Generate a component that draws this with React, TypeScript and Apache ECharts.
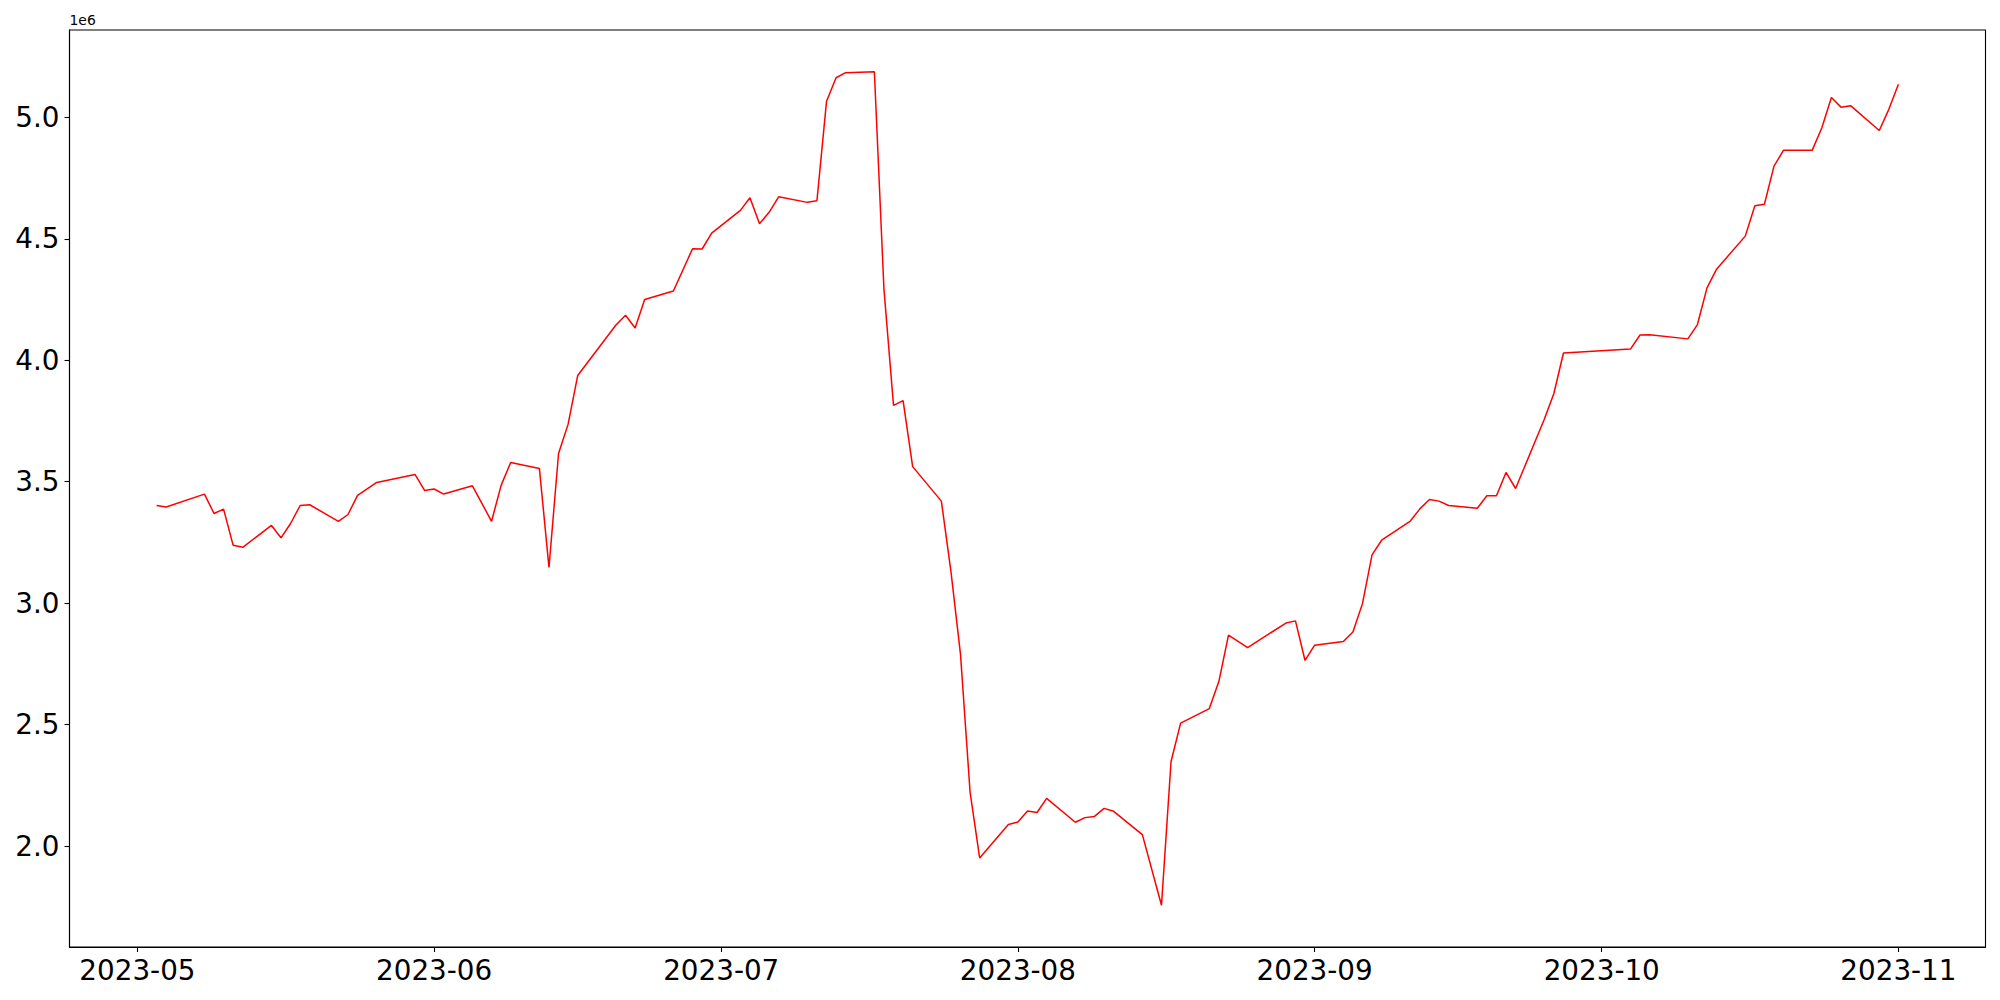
import React, { useEffect, useRef } from "react";
import * as echarts from "echarts";

const dates: string[] = [
  "2023-05-03","2023-05-04","2023-05-08","2023-05-09","2023-05-10","2023-05-11","2023-05-12",
  "2023-05-15","2023-05-16","2023-05-17","2023-05-18","2023-05-19","2023-05-22","2023-05-23",
  "2023-05-24","2023-05-26","2023-05-30","2023-05-31","2023-06-01","2023-06-02","2023-06-05",
  "2023-06-07","2023-06-08","2023-06-09","2023-06-12","2023-06-13","2023-06-14","2023-06-15",
  "2023-06-16","2023-06-20","2023-06-21","2023-06-22","2023-06-23","2023-06-26","2023-06-28",
  "2023-06-29","2023-06-30","2023-07-03","2023-07-04","2023-07-05","2023-07-06","2023-07-07",
  "2023-07-10","2023-07-11","2023-07-12","2023-07-13","2023-07-14","2023-07-17","2023-07-18",
  "2023-07-19","2023-07-20","2023-07-21","2023-07-24","2023-07-25","2023-07-26","2023-07-27",
  "2023-07-28","2023-07-31","2023-08-01","2023-08-02","2023-08-03","2023-08-04","2023-08-07",
  "2023-08-08","2023-08-09","2023-08-10","2023-08-11","2023-08-14","2023-08-16","2023-08-17",
  "2023-08-18","2023-08-21","2023-08-22","2023-08-23","2023-08-25","2023-08-29","2023-08-30",
  "2023-08-31","2023-09-01","2023-09-04","2023-09-05","2023-09-06","2023-09-07","2023-09-08",
  "2023-09-11","2023-09-12","2023-09-13","2023-09-14","2023-09-15","2023-09-18","2023-09-19",
  "2023-09-20","2023-09-21","2023-09-22","2023-09-25","2023-09-26","2023-09-27","2023-10-04",
  "2023-10-05","2023-10-06","2023-10-10","2023-10-11","2023-10-12","2023-10-13","2023-10-16",
  "2023-10-17","2023-10-18","2023-10-19","2023-10-20","2023-10-23","2023-10-24","2023-10-25",
  "2023-10-26","2023-10-27","2023-10-30","2023-10-31","2023-11-01",
];

const valuesMillions: number[] = [
  3.402, 3.396, 3.449, 3.369, 3.387, 3.238, 3.230,
  3.320, 3.269, 3.328, 3.402, 3.405, 3.337, 3.365,
  3.444, 3.497, 3.530, 3.464, 3.470, 3.449, 3.483,
  3.337, 3.485, 3.579, 3.554, 3.147, 3.616, 3.737,
  3.937, 4.145, 4.185, 4.133, 4.250, 4.285, 4.459,
  4.458, 4.523, 4.617, 4.669, 4.562, 4.609, 4.673,
  4.650, 4.657, 5.066, 5.163, 5.184, 5.188, 4.293,
  3.814, 3.834, 3.562, 3.420, 3.131, 2.789, 2.222,
  1.951, 2.089, 2.099, 2.144, 2.138, 2.196, 2.098,
  2.117, 2.122, 2.155, 2.143, 2.047, 1.756, 2.348,
  2.506, 2.566, 2.678, 2.868, 2.817, 2.918, 2.927,
  2.764, 2.827, 2.842, 2.881, 2.998, 3.199, 3.259,
  3.338, 3.388, 3.427, 3.420, 3.402, 3.391, 3.442,
  3.442, 3.538, 3.472, 3.757, 3.863, 4.030, 4.046,
  4.104, 4.105, 4.088, 4.147, 4.298, 4.375, 4.511,
  4.636, 4.642, 4.799, 4.865, 4.865, 4.957, 5.082,
  5.042, 5.048, 4.946, 5.033, 5.136,
];

const xTickDates: string[] = [
  "2023-05-01","2023-06-01","2023-07-01","2023-08-01","2023-09-01","2023-10-01","2023-11-01",
];
const yTickValues: number[] = [2.0, 2.5, 3.0, 3.5, 4.0, 4.5, 5.0];
const offsetText = "1e6";

const toTs = (s: string) => {
  const [y, m, d] = s.split("-").map(Number);
  return Date.UTC(y, m - 1, d);
};

const FONT = "DejaVu Sans";

export default function App() {
  const ref = useRef<HTMLDivElement>(null);
  useEffect(() => {
    if (!ref.current) return;
    const chart = echarts.init(ref.current, null, { renderer: "svg" });
    const xs = dates.map(toTs);
    const ys = valuesMillions.map((v) => v * 1e6);
    const xFirst = Math.min(...xs);
    const xLast = Math.max(...xs);
    const xr = xLast - xFirst;
    const yLo = Math.min(...ys);
    const yHi = Math.max(...ys);
    const yr = yHi - yLo;
    const data = xs.map((x, i) => [x, ys[i]]);
    const xTicks = xTickDates.map(toTs);
    const yTicks = yTickValues.map((v) => v * 1e6);
    const pad = (n: number) => (n < 10 ? "0" + n : "" + n);

    chart.setOption({
      animation: false,
      backgroundColor: "#ffffff",
      grid: {
        left: 69.5,
        right: 14.5,
        top: 30,
        bottom: 53,
        show: true,
        borderColor: "#000000",
        borderWidth: 1.1,
        backgroundColor: "transparent",
        containLabel: false,
      },
      xAxis: {
        type: "value",
        min: xFirst - 0.05 * xr,
        max: xLast + 0.05 * xr,
        splitLine: { show: false },
        axisLine: { show: true, lineStyle: { color: "#000", width: 1.1 } },
        axisTick: {
          show: true,
          inside: false,
          length: 5,
          lineStyle: { color: "#000", width: 1.1 },
          customValues: xTicks,
        },
        axisLabel: {
          show: true,
          customValues: xTicks,
          margin: 9,
          color: "#000",
          fontFamily: FONT,
          fontSize: 27.8,
          formatter: (v: number) => {
            const d = new Date(v);
            return d.getUTCFullYear() + "-" + pad(d.getUTCMonth() + 1);
          },
        },
      },
      yAxis: {
        type: "value",
        min: yLo - 0.05 * yr,
        max: yHi + 0.05 * yr,
        splitLine: { show: false },
        axisLine: { show: true, lineStyle: { color: "#000", width: 1.1 } },
        axisTick: {
          show: true,
          inside: false,
          length: 5,
          lineStyle: { color: "#000", width: 1.1 },
          customValues: yTicks,
        },
        axisLabel: {
          show: true,
          customValues: yTicks,
          margin: 10,
          color: "#000",
          fontFamily: FONT,
          fontSize: 27.8,
          formatter: (v: number) => (v / 1e6).toFixed(1),
        },
      },
      graphic: [
        {
          type: "text",
          left: 69.5,
          top: 13,
          style: {
            text: offsetText,
            fill: "#000",
            font: `13.9px "${FONT}"`,
          },
        },
      ],
      series: [
        {
          type: "line",
          data,
          showSymbol: false,
          symbol: "none",
          smooth: false,
          lineStyle: { color: "#ff0000", width: 1.5 },
          itemStyle: { color: "#ff0000" },
        },
      ],
    });
    return () => chart.dispose();
  }, []);
  return (
    <div
      ref={ref}
      style={{ position: "fixed", left: 0, top: 0, width: 2000, height: 1000 }}
    />
  );
}
